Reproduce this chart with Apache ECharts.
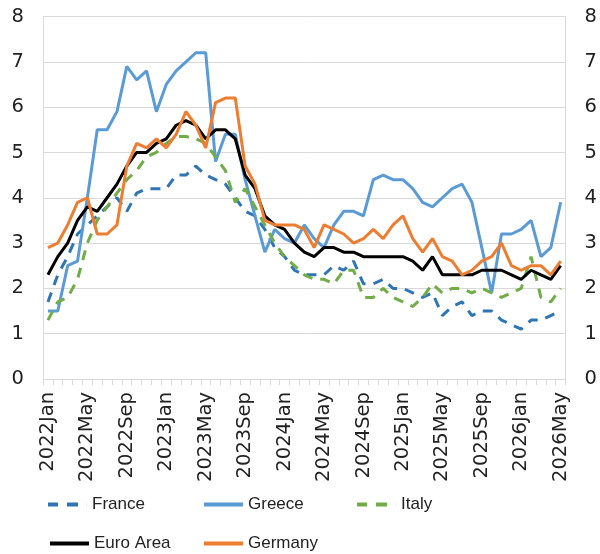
<!DOCTYPE html>
<html>
<head>
    <meta charset="utf-8">
    <title>Core inflation</title>
    <script src="https://cdn.jsdelivr.net/npm/echarts@6/dist/echarts.min.js"></script>
    <style>
        html, body { margin: 0; padding: 0; background: #fff; }
        #chart { width: 600px; height: 554px; }
    </style>
</head>
<body>
    <div id="chart"></div>
    <script>
        // months 2022Jan .. 2026May
        const years = ['2022', '2023', '2024', '2025', '2026'];
        const monthNames = ['Jan', 'Feb', 'Mar', 'Apr', 'May', 'Jun', 'Jul', 'Aug', 'Sep', 'Oct', 'Nov', 'Dec'];
        const categories = [];
        years.forEach(y => monthNames.forEach(m => categories.push(y + m)));
        categories.length = 53;

        const yTicks = [0, 1, 2, 3, 4, 5, 6, 7, 8];

        const france = [1.7, 2.3, 2.7, 3.2, 3.4, 3.6, 3.8, 4.0, 3.7, 4.1,
            4.2, 4.2, 4.2, 4.5, 4.5, 4.7, 4.5, 4.4, 4.3, 4.0,
            3.7, 3.6, 3.3, 2.9, 2.7, 2.4, 2.3, 2.3, 2.3, 2.5,
            2.4, 2.6, 2.1, 2.1, 2.2, 2.0, 2.0, 1.9, 1.8, 1.9,
            1.4, 1.6, 1.7, 1.4, 1.5, 1.5, 1.3, 1.2, 1.1, 1.3,
            1.3, 1.4, 1.5];
        const greece = [1.5, 1.5, 2.5, 2.6, 4.0, 5.5, 5.5, 5.9, 6.9, 6.6,
            6.8, 5.9, 6.5, 6.8, 7.0, 7.2, 7.2, 4.8, 5.4, 5.4,
            4.4, 3.6, 2.8, 3.3, 3.1, 3.0, 3.4, 3.1, 2.9, 3.4,
            3.7, 3.7, 3.6, 4.4, 4.5, 4.4, 4.4, 4.2, 3.9, 3.8,
            4.0, 4.2, 4.3, 3.9, 2.9, 1.9, 3.2, 3.2, 3.3, 3.5,
            2.7, 2.9, 3.9];
        const italy = [1.3, 1.7, 1.8, 2.2, 3.0, 3.5, 3.8, 4.1, 4.4, 4.6,
            4.9, 5.0, 5.2, 5.35, 5.35, 5.3, 5.2, 4.9, 4.6, 3.9,
            4.2, 3.8, 3.4, 3.0, 2.7, 2.5, 2.3, 2.2, 2.2, 2.1,
            2.4, 2.4, 1.8, 1.8, 2.0, 1.8, 1.7, 1.6, 1.8, 2.1,
            1.9, 2.0, 2.0, 1.9, 2.0, 1.9, 1.8, 1.9, 2.0, 2.7,
            1.8, 1.7, 2.0];
        const euroArea = [2.3, 2.7, 3.0, 3.5, 3.8, 3.7, 4.0, 4.3, 4.7, 5.0,
            5.0, 5.2, 5.3, 5.6, 5.7, 5.6, 5.3, 5.5, 5.5, 5.3,
            4.5, 4.2, 3.6, 3.4, 3.3, 3.0, 2.8, 2.7, 2.9, 2.9,
            2.8, 2.8, 2.7, 2.7, 2.7, 2.7, 2.7, 2.6, 2.4, 2.7,
            2.3, 2.3, 2.3, 2.3, 2.4, 2.4, 2.4, 2.3, 2.2, 2.4,
            2.3, 2.2, 2.5];
        const germany = [2.9, 3.0, 3.4, 3.9, 4.0, 3.2, 3.2, 3.4, 4.7, 5.2,
            5.1, 5.3, 5.1, 5.4, 5.9, 5.6, 5.1, 6.1, 6.2, 6.2,
            4.7, 4.3, 3.5, 3.4, 3.4, 3.4, 3.3, 2.9, 3.4, 3.3,
            3.2, 3.0, 3.1, 3.3, 3.1, 3.4, 3.6, 3.1, 2.8, 3.1,
            2.7, 2.6, 2.3, 2.4, 2.6, 2.7, 3.0, 2.5, 2.4, 2.5,
            2.5, 2.3, 2.6];

        const gridColor = '#d9d9d9';
        const textColor = '#222';
        const axisFont = 'DejaVu Sans';
        const legendFont = 'Liberation Sans';
        const dash = [10, 8];
        // legend icons: two dashes, or a solid bar (tiny tail keeps the box 39 wide)
        const dashIcon = 'path://M0,0h10v4h-10z M19,0h11v4h-11z M38.9,0h0.1v4h-0.1z';
        const solidIcon = 'rect';

        function line(name, data, color, dashed) {
            return {
                name: name,
                type: 'line',
                data: data,
                symbol: 'none',
                showSymbol: false,
                smooth: false,
                lineStyle: { color: color, width: 3, type: dashed ? dash : 'solid' },
                itemStyle: { color: color }
            };
        }

        function legendItem(name, left, top, dashed) {
            return {
                data: [{ name: name, icon: dashed ? dashIcon : solidIcon }],
                left: left,
                top: top,
                padding: 0,
                itemWidth: 39,
                itemHeight: 4,
                textStyle: { fontSize: 17, color: textColor, fontFamily: legendFont },
                selectedMode: false
            };
        }

        const yAxisCommon = {
            type: 'value',
            min: yTicks[0],
            max: yTicks[yTicks.length - 1],
            interval: 1,
            axisLine: { show: true, lineStyle: { color: gridColor, width: 1 } },
            axisTick: { show: false },
            axisLabel: { fontSize: 19.5, color: textColor, margin: 19, fontFamily: axisFont }
        };

        const chart = echarts.init(document.getElementById('chart'));
        const option = {
            animation: false,
            textStyle: { fontFamily: axisFont },
            grid: { left: 43, right: 34, top: 16.5, bottom: 175, containLabel: false },
            legend: [
                legendItem('France', 48, 496, true),
                legendItem('Greece', 204, 496, false),
                legendItem('Italy', 357, 496, true),
                legendItem('Euro Area', 50, 535, false),
                legendItem('Germany', 204, 535, false)
            ],
            xAxis: {
                type: 'category',
                data: categories,
                boundaryGap: true,
                axisLine: { lineStyle: { color: gridColor, width: 1 } },
                axisTick: { show: true, interval: 0, length: 6, lineStyle: { color: gridColor } },
                axisLabel: { interval: 3, rotate: 90, fontSize: 19.5, color: textColor, margin: 13, fontFamily: axisFont },
                splitLine: { show: false }
            },
            yAxis: [
                Object.assign({}, yAxisCommon, {
                    position: 'left',
                    splitLine: { show: true, lineStyle: { color: gridColor, width: 1 } }
                }),
                Object.assign({}, yAxisCommon, {
                    position: 'right',
                    splitLine: { show: false }
                })
            ],
            series: [
                line('France', france, '#2e75b6', true),
                line('Greece', greece, '#5b9bd5', false),
                line('Italy', italy, '#70ad47', true),
                line('Euro Area', euroArea, '#000000', false),
                line('Germany', germany, '#ed7d31', false)
            ]
        };
        chart.setOption(option);
    </script>
</body>
</html>
